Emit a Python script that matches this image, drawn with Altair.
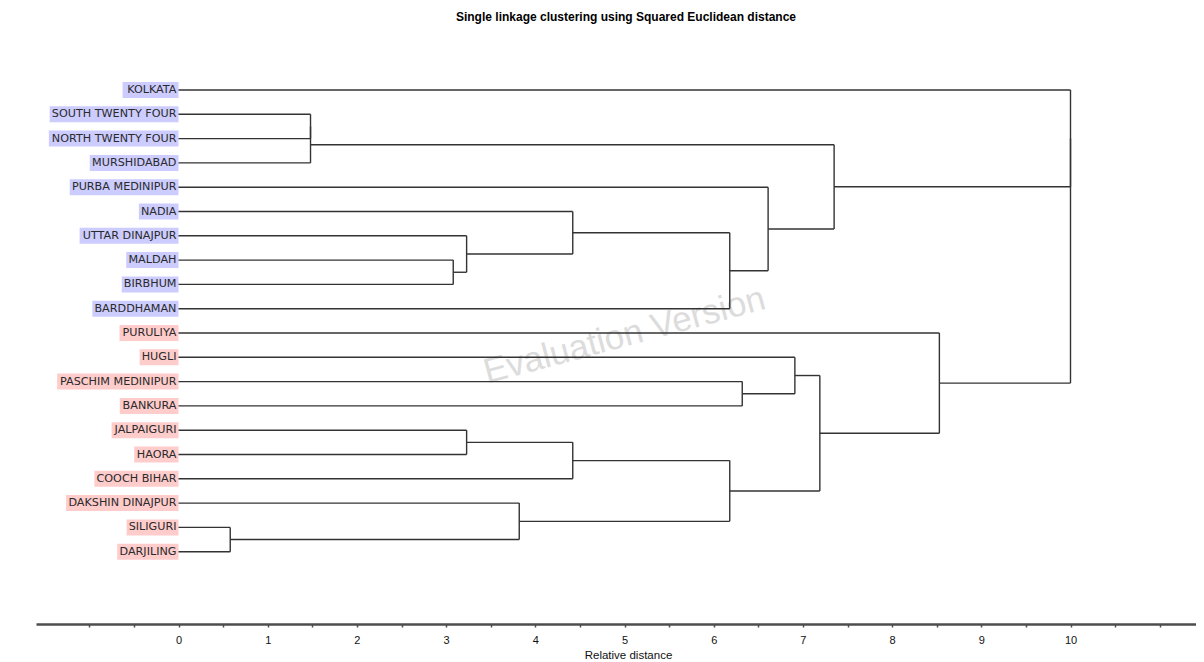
import altair as alt
import pandas as pd

# ---------------- data ----------------
districts = [
    "KOLKATA", "SOUTH TWENTY FOUR", "NORTH TWENTY FOUR", "MURSHIDABAD",
    "PURBA MEDINIPUR", "NADIA", "UTTAR DINAJPUR", "MALDAH", "BIRBHUM",
    "BARDDHAMAN", "PURULIYA", "HUGLI", "PASCHIM MEDINIPUR", "BANKURA",
    "JALPAIGURI", "HAORA", "COOCH BIHAR", "DAKSHIN DINAJPUR", "SILIGURI",
    "DARJILING",
]
cluster = ["A"] * 10 + ["B"] * 10

# merges: node ids 0..19 are leaves, merge k creates node 20+k
merge_left = [18, 1, 21, 7, 6, 14, 17, 5, 25, 27, 28, 12, 4, 11, 33, 22, 10, 0, 37]
merge_right = [19, 2, 3, 8, 23, 15, 20, 24, 16, 9, 26, 13, 29, 31, 30, 32, 34, 35, 36]
merge_height = [0.58, 1.48, 1.48, 3.08, 3.23, 3.23, 3.82, 4.42, 4.42, 6.18,
                6.18, 6.32, 6.61, 6.91, 7.19, 7.35, 8.53, 10.0, 10.0]

tick_values = [v / 2 for v in range(-2, 23)]
watermark = ["Evaluation Version"]
watermark_x = [5.0]
watermark_y = [10.1]

# ---------------- layout ----------------
W, H = 1160, 596
PPU = 89.2                       # pixels per unit of distance
XMIN = -142.5 / PPU
XMAX = XMIN + W / PPU
ROW = 24.3
FIRST = 62.0
YMIN = -FIRST / ROW
YMAX = (H - FIRST) / ROW
FS = 11.2

# approximate DejaVu Sans advance widths (em)
em = {"A": .684, "B": .686, "C": .698, "D": .770, "E": .632, "F": .575,
      "G": .775, "H": .752, "I": .295, "J": .295, "K": .656, "L": .557,
      "M": .863, "N": .748, "O": .787, "P": .603, "Q": .787, "R": .695,
      "S": .635, "T": .611, "U": .732, "V": .684, "W": .989, "X": .685,
      "Y": .611, "Z": .685, " ": .318}

# ---------------- build tables ----------------
node_x = {i: 0.0 for i in range(len(districts))}
node_y = {i: float(i) for i in range(len(districts))}
segs = []
for k, (l, r, h) in enumerate(zip(merge_left, merge_right, merge_height)):
    nid = len(districts) + k
    segs.append(dict(x=node_x[l], x2=h, y=node_y[l], y2=node_y[l]))
    segs.append(dict(x=node_x[r], x2=h, y=node_y[r], y2=node_y[r]))
    segs.append(dict(x=h, x2=h, y=node_y[l], y2=node_y[r]))
    node_x[nid] = h
    node_y[nid] = (node_y[l] + node_y[r]) / 2
seg_df = pd.DataFrame(segs)

labels = []
for i, (name, c) in enumerate(zip(districts, cluster)):
    wpx = sum(em.get(ch, 0.6) for ch in name) * FS + 4
    labels.append(dict(name=name, cluster=c, row=i, x=0.0,
                       left=-wpx / PPU, top=i - 0.33, bot=i + 0.33))
lab_df = pd.DataFrame(labels)
wm_df = pd.DataFrame(dict(text=watermark, x=watermark_x, y=watermark_y))

xscale = alt.Scale(domain=[XMIN, XMAX], nice=False, zero=False)
yscale = alt.Scale(domain=[YMIN, YMAX], nice=False, zero=False, reverse=True)

xaxis = alt.Axis(
    values=tick_values,
    labelExpr="datum.value >= 0 && datum.value <= 10 && datum.value == floor(datum.value) ? format(datum.value, 'd') : ''",
    grid=False, domainColor="#4d4d4d", domainWidth=2.5,
    tickColor="#4d4d4d", tickWidth=1.5, tickSize=3,
    labelFont="Liberation Sans", labelFontSize=11, labelColor="#111111",
    labelPadding=7, labelFlush=False, labelOverlap=False,
    title="Relative distance", titleFont="Liberation Sans", titleFontSize=11.5,
    titleFontWeight="normal", titleColor="#111111", titleX=592, titleY=31,
    titleAlign="center", titleBaseline="middle",
)

wm = alt.Chart(wm_df).mark_text(
    font="Liberation Sans", fontSize=35, color="#dcdcdc", angle=345,
    align="center", baseline="middle",
).encode(
    x=alt.X("x:Q", scale=xscale, axis=xaxis),
    y=alt.Y("y:Q", scale=yscale, axis=None),
    text="text:N",
)

boxes = alt.Chart(lab_df).mark_rect().encode(
    x=alt.X("left:Q", scale=xscale, axis=xaxis),
    x2="x:Q",
    y=alt.Y("top:Q", scale=yscale, axis=None),
    y2="bot:Q",
    color=alt.Color("cluster:N", scale=alt.Scale(domain=["A", "B"], range=["#ccccff", "#ffcccc"]), legend=None),
)

texts = alt.Chart(lab_df).mark_text(
    font="DejaVu Sans", fontSize=FS, color="#2a2a2a", align="right",
    baseline="middle", dx=-2,
).encode(
    x=alt.X("x:Q", scale=xscale, axis=xaxis),
    y=alt.Y("row:Q", scale=yscale, axis=None),
    text="name:N",
)

lines = alt.Chart(seg_df).mark_rule(color="#333333", strokeWidth=1.4).encode(
    x=alt.X("x:Q", scale=xscale, axis=xaxis),
    x2="x2:Q",
    y=alt.Y("y:Q", scale=yscale, axis=None),
    y2="y2:Q",
)

chart = alt.layer(wm, boxes, texts, lines).properties(
    width=W, height=H,
    title=alt.TitleParams(
        "Single linkage clustering using Squared Euclidean distance",
        font="Liberation Sans", fontSize=12, fontWeight="bold", color="#000000",
        anchor="middle", baseline="alphabetic", offset=-5, dx=10,
    ),
    autosize=alt.AutoSizeParams(type="none"),
    padding={"left": 28, "top": 20, "right": 0, "bottom": 38},
).configure(background="white").configure_view(stroke=None)

chart.save("out.html", embed_options={"renderer": "svg", "actions": False})
